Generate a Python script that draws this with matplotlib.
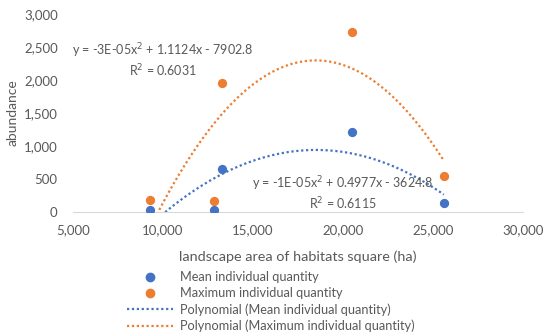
import numpy as np
import matplotlib.pyplot as plt
from matplotlib.lines import Line2D
from matplotlib.ticker import FuncFormatter

plt.rcParams['font.family'] = ['Lato', 'DejaVu Sans']

# data
area = [9300, 12850, 13300, 20500, 25600]
mean_qty = [30, 25, 650, 1210, 130]
max_qty = [180, 160, 1950, 2720, 550]

blue = '#4472C4'
orange = '#ED7D31'
grey = '#595959'

fig = plt.figure(figsize=(5.5, 3.36), dpi=100)
ax = fig.add_axes([73/550, 1-212/336, 450/550, 198/336])

ax.scatter(area, mean_qty, s=32, color=blue, zorder=3)
ax.scatter(area, max_qty, s=32, color=orange, zorder=3)

# second order trendlines, fitted like excel does
xs = np.linspace(min(area), max(area), 200)
p_mean = np.polyfit(area, mean_qty, 2)
p_max = np.polyfit(area, max_qty, 2)
ax.plot(xs, np.polyval(p_mean, xs), color=blue, lw=1.6, ls=(0, (1, 1.2)), zorder=2)
ax.plot(xs, np.polyval(p_max, xs), color=orange, lw=1.6, ls=(0, (1, 1.2)), zorder=2)

ax.set_xlim(5000, 30000)
ax.set_ylim(0, 3000)
ax.set_xticks(range(5000, 30001, 5000))
ax.set_yticks(range(0, 3001, 500))
ax.xaxis.set_major_formatter(FuncFormatter(lambda v, p: f'{int(v):,}'))
ax.yaxis.set_major_formatter(FuncFormatter(lambda v, p: f'{int(v):,}'))
ax.tick_params(length=0, labelsize=9.5, colors=grey)
ax.tick_params(axis='x', pad=9)
ax.tick_params(axis='y', pad=11)
for s in ['top', 'right', 'left']:
    ax.spines[s].set_visible(False)
ax.spines['bottom'].set_color('#D9D9D9')

ax.set_xlabel('landscape area of habitats square (ha)', fontsize=10.4, color=grey, labelpad=10)
ax.set_ylabel('abundance', fontsize=10, color=grey, labelpad=4)

ax.text(10000, 2295, 'y = -3E-05x$^2$ + 1.1124x - 7902.8\nR$^2$ = 0.6031',
        ha='center', va='center', fontsize=9, color=grey, linespacing=1.15)
ax.text(20000, 280, 'y = -1E-05x$^2$ + 0.4977x - 3624.8\nR$^2$ = 0.6115',
        ha='center', va='center', fontsize=9, color=grey, linespacing=1.15)

handles = [
    Line2D([], [], ls='none', marker='o', ms=6, color=blue),
    Line2D([], [], ls='none', marker='o', ms=6, color=orange),
    Line2D([], [], color=blue, lw=1.6, ls=(0, (1, 1.2))),
    Line2D([], [], color=orange, lw=1.6, ls=(0, (1, 1.2))),
]
labels = ['Mean individual quantity', 'Maximum individual quantity',
          'Polynomial (Mean individual quantity)',
          'Polynomial (Maximum individual quantity)']
leg = fig.legend(handles, labels, loc='upper left', bbox_to_anchor=(121/550, 1-265/336),
                 frameon=False, fontsize=9.2, labelspacing=0.3, handlelength=3.6,
                 handletextpad=0.5, borderpad=0)
for t in leg.get_texts():
    t.set_color(grey)

fig.savefig('out.png', dpi=100)
